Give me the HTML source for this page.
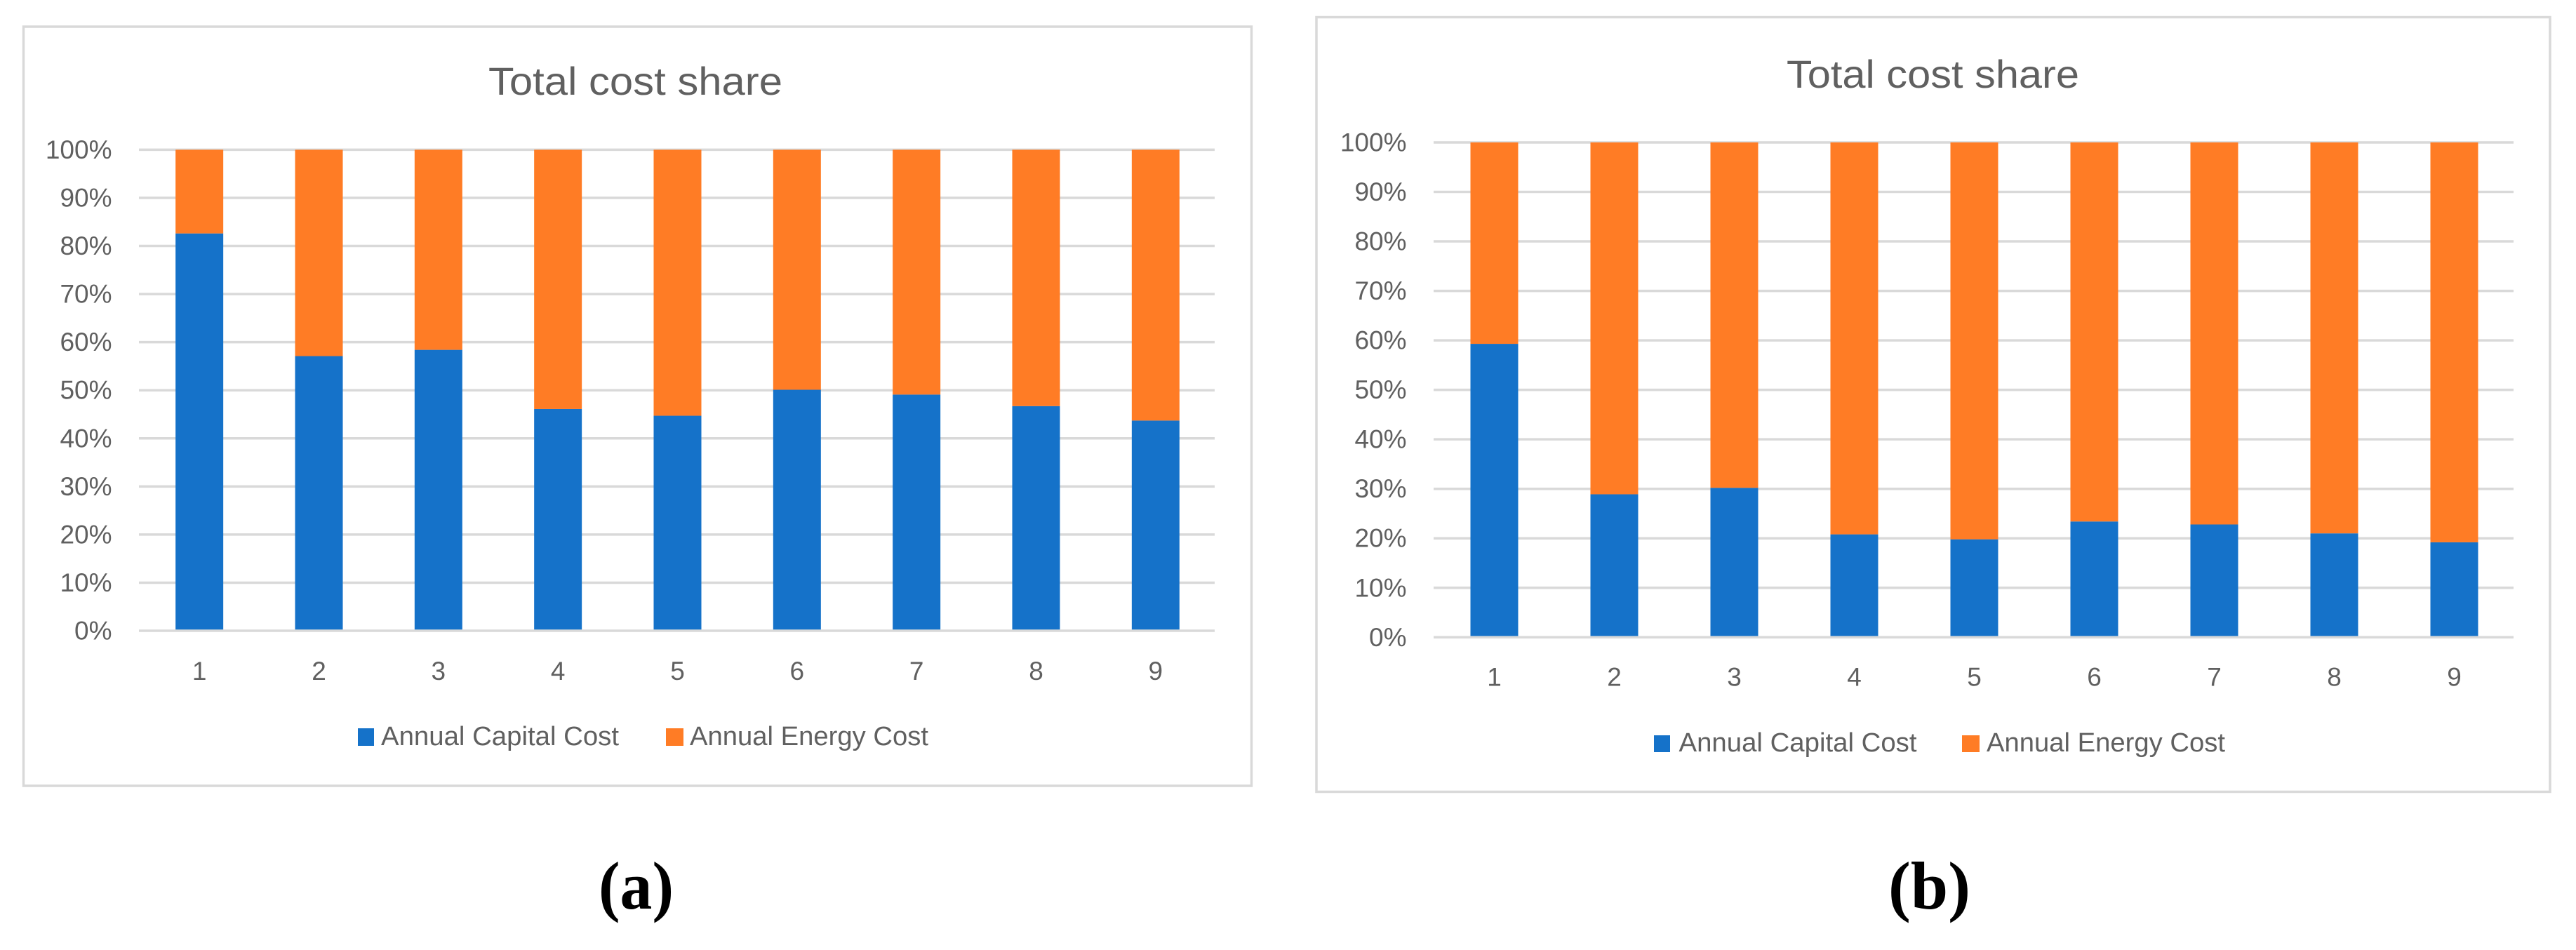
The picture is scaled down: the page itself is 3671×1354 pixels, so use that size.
<!DOCTYPE html>
<html lang="en">
<head>
<meta charset="utf-8">
<title>Total cost share</title>
<style>
  html, body { margin: 0; padding: 0; background: #fff; }
  body { width: 3671px; height: 1354px; overflow: hidden; }
  svg { display: block; }
  text { font-family: "Liberation Sans", sans-serif; fill: #606060; }
  .caption { font-family: "Liberation Serif", serif; font-weight: bold; fill: #000; font-size: 96px; }
</style>
</head>
<body>
<svg id="figure" xmlns="http://www.w3.org/2000/svg" width="3671" height="1354" viewBox="0 0 3671 1354">
  <rect x="0" y="0" width="3671" height="1354" fill="#ffffff"/>

  <g id="panel-a">
    <rect x="33.5" y="38" width="1750" height="1082" fill="#fff" stroke="#d9d9d9" stroke-width="3.5"/>
    <text x="696" y="135" font-size="56" textLength="419" lengthAdjust="spacingAndGlyphs">Total cost share</text>
    <rect x="510" y="1038" width="23" height="25" fill="#1572c9"/>
    <text x="543" y="1062" font-size="38" textLength="339" lengthAdjust="spacingAndGlyphs">Annual Capital Cost</text>
    <rect x="949" y="1038" width="25" height="25" fill="#ff7c25"/>
    <text x="983" y="1062" font-size="38" textLength="340" lengthAdjust="spacingAndGlyphs">Annual Energy Cost</text>
  </g>

  <g id="panel-b">
    <rect x="1876" y="24.5" width="1758" height="1104" fill="#fff" stroke="#d9d9d9" stroke-width="3.5"/>
    <text x="2546" y="125" font-size="56" textLength="417" lengthAdjust="spacingAndGlyphs">Total cost share</text>
    <rect x="2357" y="1048" width="23" height="24" fill="#1572c9"/>
    <text x="2392.5" y="1071" font-size="38" textLength="339" lengthAdjust="spacingAndGlyphs">Annual Capital Cost</text>
    <rect x="2796" y="1048" width="25" height="24" fill="#ff7c25"/>
    <text x="2831" y="1071" font-size="38" textLength="340" lengthAdjust="spacingAndGlyphs">Annual Energy Cost</text>
  </g>

  <text class="caption" x="853" y="1295" textLength="107" lengthAdjust="spacingAndGlyphs">(a)</text>
  <text class="caption" x="2691" y="1295" textLength="117" lengthAdjust="spacingAndGlyphs">(b)</text>
</svg>

<script>
const categories = ['1', '2', '3', '4', '5', '6', '7', '8', '9'];
const yTickValues = [0, 10, 20, 30, 40, 50, 60, 70, 80, 90, 100];
const yTickLabels = ['0%', '10%', '20%', '30%', '40%', '50%', '60%', '70%', '80%', '90%', '100%'];

const capitalCostA = [82.6, 57.1, 58.4, 46.1, 44.7, 50.1, 49.1, 46.7, 43.7];
const energyCostA = [17.4, 42.9, 41.6, 53.9, 55.3, 49.9, 50.9, 53.3, 56.3];

const capitalCostB = [59.3, 28.9, 30.2, 20.8, 19.8, 23.4, 22.8, 21.0, 19.2];
const energyCostB = [40.7, 71.1, 69.8, 79.2, 80.2, 76.6, 77.2, 79.0, 80.8];

const SVG_NS = 'http://www.w3.org/2000/svg';
const GRID_COLOR = '#d9d9d9';
const CAPITAL_COLOR = '#1572c9';
const ENERGY_COLOR = '#ff7c25';

function svgEl(tag, attrs) {
  const el = document.createElementNS(SVG_NS, tag);
  Object.keys(attrs).forEach(function (k) { el.setAttribute(k, attrs[k]); });
  return el;
}

function drawChart(panelId, prefix, plot, capital, energy) {
  const panel = document.getElementById(panelId);
  const band = (plot.right - plot.left) / categories.length;
  const xScale = function (i) { return plot.left + (i + 0.5) * band; };
  const yScale = function (v) { return plot.bottom - (v / 100) * (plot.bottom - plot.top); };

  function gridLine(i) {
    const y = yScale(yTickValues[i]);
    const line = svgEl('line', { x1: plot.left, x2: plot.right, y1: y, y2: y, stroke: GRID_COLOR, 'stroke-width': 3.5 });
    
    
    panel.appendChild(line);
  }

  yTickValues.forEach(function (v, i) {
    if (v !== 0) gridLine(i);
    const label = svgEl('text', { x: plot.left - 38.5, y: yScale(v) + 12.5, 'text-anchor': 'end', 'font-size': 37 });
    
    
    label.textContent = yTickLabels[i];
    panel.appendChild(label);
  });

  categories.forEach(function (cat, i) {
    const barWidth = 68;
    const x = xScale(i) - barWidth / 2 + 1;
    const yCap = yScale(capital[i]);
    const yTop = yScale(capital[i] + energy[i]);

    const capBar = svgEl('rect', { x: x, y: yCap, width: barWidth, height: yScale(0) - yCap, fill: CAPITAL_COLOR });
    
    
    panel.appendChild(capBar);

    const enBar = svgEl('rect', { x: x, y: yTop, width: barWidth, height: yCap - yTop, fill: ENERGY_COLOR });
    
    
    panel.appendChild(enBar);

    const tick = svgEl('text', { x: xScale(i) + 1, y: plot.xLabelBaseline, 'text-anchor': 'middle', 'font-size': 37 });
    
    
    tick.textContent = cat;
    panel.appendChild(tick);
  });

  gridLine(0);
}

drawChart('panel-a', 'chart-a', { left: 198, right: 1731, top: 213.4, bottom: 899, xLabelBaseline: 969 }, capitalCostA, energyCostA);
drawChart('panel-b', 'chart-b', { left: 2043, right: 3582, top: 203, bottom: 908.3, xLabelBaseline: 977.5 }, capitalCostB, energyCostB);
</script>
</body>
</html>
